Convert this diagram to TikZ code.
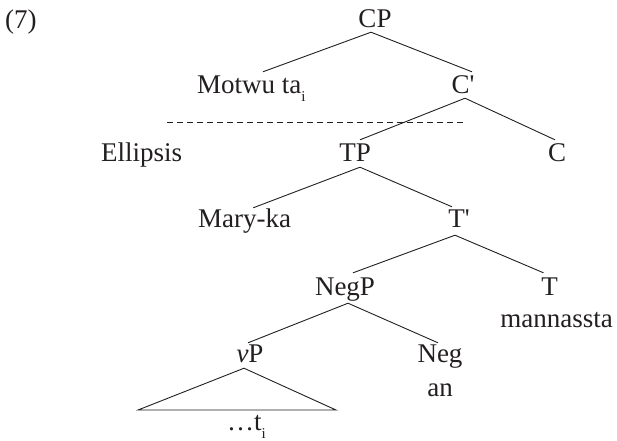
\documentclass[tikz,border=0pt]{standalone}
\usepackage{fontspec}
\setmainfont{Liberation Serif}
\newfontfamily\straightfont{Liberation Serif}[Ligatures=TeXOff]
\definecolor{ink}{HTML}{231F20}
\tikzset{
  lbl/.style={inner sep=0pt, text height=18pt, text depth=0pt, anchor=base, text=ink, font=\fontsize{27}{30}\selectfont},
  lblw/.style={lbl, anchor=base west},
  branch/.style={draw=ink, line width=0.9pt},
  ellipsisline/.style={draw=ink, line width=0.9pt, dash pattern=on 6pt off 4pt}
}
\newcommand{\subi}{\raisebox{-8pt}{\fontsize{15}{15}\selectfont i}}
\newcommand{\barmark}{{\straightfont\char"27}}
\begin{document}
\begin{tikzpicture}[x=1pt,y=-1pt]
\useasboundingbox (0,0) rectangle (617,440);
% labels
\node[lblw] (ex) at (5,28) {(7)};
\node[lbl] (CP) at (375,27) {CP};
\node[lblw] (Motwu) at (197,93) {Motwu ta\subi};
\node[lbl] (Cbar) at (463,93) {C\barmark};
\node[lblw] (Ell) at (101,161) {Ellipsis};
\node[lbl] (TP) at (355,161) {TP};
\node[lbl] (C) at (557,161) {C};
\node[lblw] (Mary) at (198,227) {Mary-ka};
\node[lbl] (Tbar) at (459,227) {T\barmark};
\node[lbl] (NegP) at (345,295) {NegP};
\node[lbl] (T) at (549.5,295) {T};
\node[lbl] (mann) at (556.5,327) {mannassta};
\node[lbl] (vP) at (250,362) {\textit{v}P};
\node[lbl] (Neg) at (440,362) {Neg};
\node[lbl] (an) at (440,396) {an};
\node[lblw] (trace) at (227,430) {\ldots t\subi};
% coordinates
\coordinate (dashL) at (167,122);
\coordinate (dashR) at (465,122);
\coordinate (triL) at (138,410);
\coordinate (triR) at (336,410);
% branches
\draw[branch] ([xshift=-4pt,yshift=-5pt]CP.south) -- ([xshift=11.5pt,yshift=3pt]Motwu.north);
\draw[branch] ([xshift=-4pt,yshift=-5pt]CP.south) -- ([xshift=9pt,yshift=3pt]Cbar.north);
\draw[branch] ([xshift=2pt,yshift=-5pt]Cbar.south) -- ([xshift=5pt,yshift=3pt]TP.north);
\draw[branch] ([xshift=2pt,yshift=-5pt]Cbar.south) -- ([xshift=-2pt,yshift=3pt]C.north);
\draw[branch] ([xshift=5pt,yshift=-6pt]TP.south) -- ([xshift=8.5pt,yshift=1pt]Mary.north);
\draw[branch] ([xshift=5pt,yshift=-6pt]TP.south) -- ([xshift=-7pt,yshift=2pt]Tbar.north);
\draw[branch] ([xshift=-4pt,yshift=-8pt]Tbar.south) -- ([xshift=8pt,yshift=4pt]NegP.north);
\draw[branch] ([xshift=-4pt,yshift=-8pt]Tbar.south) -- ([xshift=-6pt,yshift=4pt]T.north);
\draw[branch] ([xshift=3pt,yshift=-8pt]NegP.south) -- ([xshift=-2pt,yshift=1pt]vP.north);
\draw[branch] ([xshift=3pt,yshift=-8pt]NegP.south) -- ([xshift=-2pt,yshift=1pt]Neg.north);
\draw[branch] ([xshift=-6pt,yshift=-6pt]vP.south) -- (triL) -- (triR) -- cycle;
% ellipsis line
\draw[ellipsisline] (dashL) -- (dashR);
\end{tikzpicture}
\end{document}
